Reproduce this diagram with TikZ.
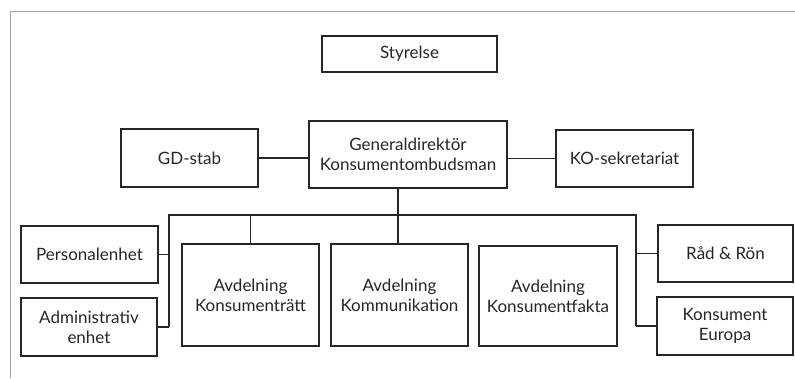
\documentclass[tikz,border=0pt]{standalone}
\usepackage{fontspec}
\setmainfont{Lato}
\begin{document}
\begin{tikzpicture}[x=1pt,y=-1pt,
  box/.style={draw=black!85,line width=1.6pt,rectangle,inner sep=0pt,align=center,
    font=\fontsize{17}{20}\selectfont,text=black!85},
  conn/.style={draw=black!85,line width=1.6pt},
  frame/.style={draw=black!35,line width=0.9pt}]
\useasboundingbox (0,0) rectangle (795,378);
\draw[frame] (10,378) -- (10,11) -- (795,11);
\node[box,minimum width=175pt,minimum height=36pt] (sty) at (409.5,54) {Styrelse};
\node[box,minimum width=198pt,minimum height=67pt] (gd) at (408,154.5) {Generaldirektör\\Konsumentombudsman};
\node[box,minimum width=137pt,minimum height=58pt] (gds) at (189.5,158) {GD-stab};
\node[box,minimum width=137pt,minimum height=57pt] (ko) at (624.5,158.5) {KO-sekretariat};
\node[box,minimum width=137pt,minimum height=57pt] (pers) at (89.5,254.5) {Personalenhet};
\node[box,minimum width=136pt,minimum height=58pt] (adm) at (89,327) {Administrativ\\enhet};
\node[box,minimum width=137pt,minimum height=102pt] (ak) at (250.5,295) {Avdelning\\Konsumenträtt};
\node[box,minimum width=137pt,minimum height=102pt] (akom) at (399.5,295) {Avdelning\\Kommunikation};
\node[box,minimum width=138pt,minimum height=100pt] (akf) at (548,296) {Avdelning\\Konsumentfakta};
\node[box,minimum width=135pt,minimum height=57pt] (rad) at (725.5,253.5) {Råd \& Rön};
\node[box,minimum width=136pt,minimum height=58pt] (ke) at (725,326) {Konsument\\Europa};
\coordinate (busL) at (169,215);
\coordinate (busR) at (636,215);
\coordinate (jd) at (398,215);
\draw[conn] (gds.east) -- (gds.east -| gd.west);
\draw[conn] (gd.east |- ko.west) -- (ko.west);
\draw[conn] (jd |- gd.south) -- (jd) -- (jd |- akom.north);
\draw[conn] (busL |- adm.east) -- (busL) -- (busR) -- (busR |- ke.west);
\draw[conn] (pers.east) -- (pers.east -| busL);
\draw[conn] (adm.east) -- (adm.east -| busL);
\draw[conn] (ak.north) -- (ak.north |- busL);
\draw[conn] (rad.west) -- (rad.west -| busR);
\draw[conn] (ke.west) -- (ke.west -| busR);
\end{tikzpicture}
\end{document}
